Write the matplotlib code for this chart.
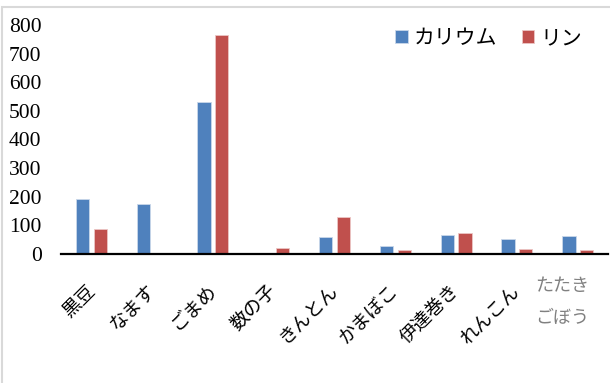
import matplotlib

matplotlib.use("Agg")
import matplotlib.pyplot as plt  # noqa: E402
import numpy as np  # noqa: E402
from matplotlib.patches import Rectangle  # noqa: E402
from matplotlib.transforms import blended_transform_factory  # noqa: E402

plt.rcParams["font.family"] = ["Liberation Serif", "Noto Sans CJK JP", "DejaVu Sans"]

FOODS = ["黒豆", "なます", "ごまめ", "数の子", "きんとん", "かまぼこ", "伊達巻き", "れんこん", "たたき\nごぼう"]
POTASSIUM = [191, 176, 530, 0, 60, 27, 66, 51, 63]
PHOSPHORUS = [88, 0, 763, 20, 129, 15, 72, 17, 14]
SERIES = ["カリウム", "リン"]
YTICKS = [0, 100, 200, 300, 400, 500, 600, 700, 800]

CK, CP = "#4F81BD", "#C0504D"
JP = ["Noto Sans CJK JP", "DejaVu Sans"]

fig = plt.figure(figsize=(6.10, 3.83), dpi=100)
ax = fig.add_axes([0.100, 0.337, 0.897, 0.598])

x = np.arange(len(FOODS))
w = 0.22
ax.bar(x - 0.145, POTASSIUM, width=w, color=CK, edgecolor="#c9d7ea", lw=0.6, label=SERIES[0])
ax.bar(x + 0.145, PHOSPHORUS, width=w, color=CP, edgecolor="#ecc6c5", lw=0.6, label=SERIES[1])

ax.set_xlim(-0.5, len(FOODS) - 0.5)
ax.set_ylim(0, 800)
ax.set_yticks(YTICKS)
ax.tick_params(axis="y", length=0, pad=14, labelsize=15.5)
ax.tick_params(axis="x", length=0, pad=24)
for s in ["top", "right", "left"]:
    ax.spines[s].set_visible(False)
ax.spines["bottom"].set_linewidth(1.6)

ax.set_xticks(x[:-1])
ax.set_xticklabels(FOODS[:-1], rotation=45, ha="right", va="center",
                   rotation_mode="anchor", family=JP, fontsize=13.5)
# last label is laid out horizontally in the original, in grey
tr = blended_transform_factory(ax.transData, ax.transAxes)
ax.text(7.74, -0.21, FOODS[-1], transform=tr, ha="center", va="center",
        family=JP, fontsize=13, color="#808080", linespacing=2.0)

ax.legend(loc="center right", bbox_to_anchor=(582 / 610, 1 - 38 / 383),
          bbox_transform=fig.transFigure, ncol=2, frameon=False,
          prop={"family": JP, "size": 15}, handlelength=0.6, handleheight=0.6,
          handletextpad=0.3, columnspacing=1.15, borderaxespad=0, borderpad=0)

fig.patches.append(Rectangle((2 / 610, -0.1), 1.2, 1.1 - 7 / 383,
                             transform=fig.transFigure, fill=False,
                             edgecolor="#d9d9d9", lw=1.5))

fig.savefig("out.png", dpi=100)
